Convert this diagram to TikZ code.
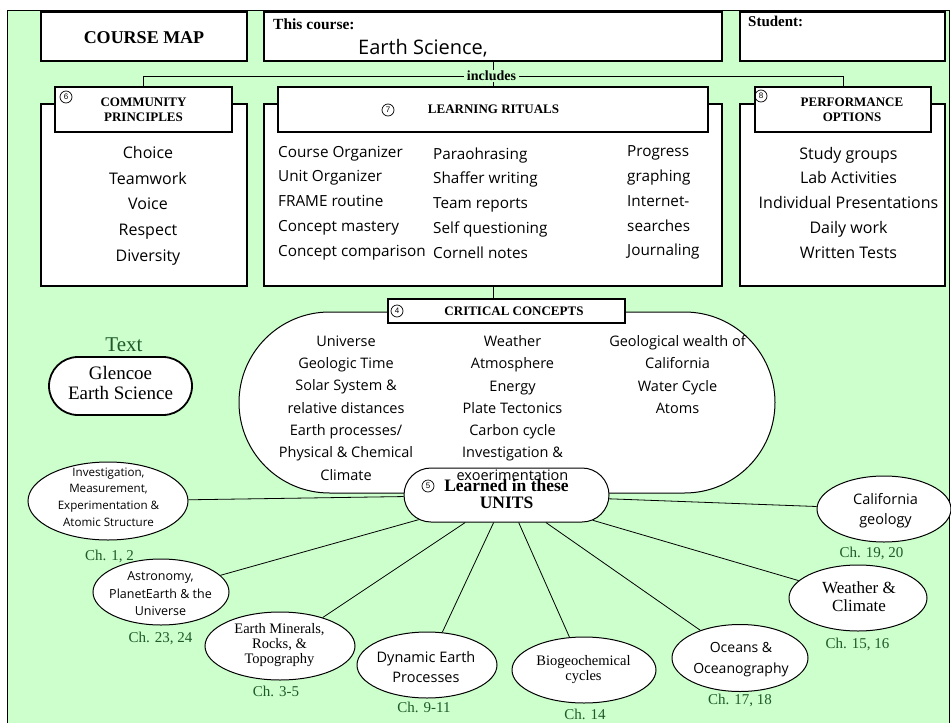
\documentclass[tikz,border=0pt]{standalone}
\usepackage{fontspec}
\setmainfont{Liberation Serif}
\newfontfamily\comic{Open Sans}
\newfontfamily\digitfont{Liberation Sans}
\usetikzlibrary{shapes.geometric,shapes.misc}
\definecolor{mapgreen}{RGB}{204,255,204}
\definecolor{chapgreen}{RGB}{30,90,40}
\newcommand\setfs[2]{\fontsize{#1}{#2}\selectfont}

\begin{document}
\begin{tikzpicture}[x=1pt,y=-1pt,
  frame/.style={draw, fill=white, line width=1.2pt, inner sep=0pt},
  head/.style={font=\bfseries\setfs{13}{15}, align=center, inner sep=0pt},
  item/.style={font=\comic\setfs{16}{25.75}, align=center, inner sep=0pt},
  ritem/.style={font=\comic\setfs{15.3}{24.75}, align=left, anchor=west, inner sep=0pt},
  cc/.style={font=\comic\setfs{14.5}{22.3}, align=center, inner sep=0pt},
  cnum/.style={circle, draw, line width=0.7pt, minimum size=12pt, inner sep=0pt, font=\digitfont\setfs{8}{8}},
  unitshape/.style={ellipse, draw, fill=white, line width=1pt, inner sep=0pt},
  stadium/.style={rounded rectangle, draw, fill=white, line width=1pt, inner sep=0pt},
  utext/.style={align=center, inner sep=0pt},
  chap/.style={font=\setfs{15}{15}, text=chapgreen, inner sep=0pt},
  link/.style={line width=0.8pt}]

\useasboundingbox (0,0) rectangle (951,723);
\fill[white] (0,0) rectangle (951,723);
\fill[mapgreen] (7,10) rectangle (949,723);
\draw[line width=1pt] (7,723) -- (7,10) -- (949,10) -- (949,723);

% header row
\node[frame, minimum width=206pt, minimum height=49pt] (mapbox) at (144,36.5) {};
\node[font=\bfseries\setfs{18}{18}, inner sep=0pt] (maptitle) at (144,38) {COURSE MAP};
\node[frame, minimum width=458pt, minimum height=49pt] (coursebox) at (493,36.5) {};
\node[anchor=west, font=\bfseries\setfs{15.5}{16}, inner sep=0pt] (courselbl) at (273,24) {This course:};
\node[anchor=west, font=\comic\setfs{20}{20}, inner sep=0pt] (coursename) at (358,48) {Earth Science,};
\node[frame, minimum width=205pt, minimum height=49pt] (studentbox) at (842.5,36.5) {};
\node[anchor=west, font=\bfseries\setfs{15}{16}, inner sep=0pt] (studentlbl) at (748,21) {Student:};

% community principles
\node[frame, minimum width=206pt, minimum height=182pt] (commbox) at (144,195) {};
\node[frame, minimum width=177pt, minimum height=45pt] (commhead) at (143.5,109.5) {};
\node[cnum] (n6) at (66,97) {6};
\node[head] (commtitle) at (143.5,109.5) {COMMUNITY\\PRINCIPLES};
\node[item] (commlist) at (148,205.6) {Choice\\Teamwork\\Voice\\Respect\\Diversity};

% learning rituals
\node[frame, minimum width=458pt, minimum height=182pt] (ritbox) at (493,195) {};
\node[frame, minimum width=430pt, minimum height=45pt] (rithead) at (493,109.5) {};
\node[cnum] (n7) at (388,110) {7};
\node[head] (rittitle) at (493.5,109) {LEARNING RITUALS};
\node[ritem] (ritone) at (278,202.8) {Course Organizer\\Unit Organizer\\FRAME routine\\Concept mastery\\Concept comparison};
\node[ritem] (rittwo) at (433,202.8) {Paraohrasing\\Shaffer writing\\Team reports\\Self questioning\\Cornell notes};
\node[ritem] (ritthree) at (627,202.8) {Progress\\graphing\\Internet-\\searches\\Journaling};

% performance options
\node[frame, minimum width=205pt, minimum height=182pt] (perfbox) at (842.5,195) {};
\node[frame, minimum width=176pt, minimum height=45pt] (perfhead) at (843,109.5) {};
\node[cnum] (n8) at (761,96) {8};
\node[head] (perftitle) at (852,109.5) {PERFORMANCE\\OPTIONS};
\node[font=\comic\setfs{16}{24.75}, align=center, inner sep=0pt] (perflist) at (848.5,202.6) {Study groups\\Lab Activities\\Individual Presentations\\Daily work\\Written Tests};

% "includes" bracket
\draw[link] (coursebox.south) -- (rithead.north);
\node[fill=mapgreen, inner xsep=3pt, inner ysep=1pt, font=\bfseries\setfs{14}{14}] (incl) at (491.5,76) {includes};
\draw[link] (commhead.north) |- (incl.west);
\draw[link] (perfhead.north) |- (incl.east);

% critical concepts
\node[stadium, minimum width=536pt, minimum height=181pt] (concepts) at (507,402.5) {};
\node[frame, minimum width=237pt, minimum height=24pt] (crithead) at (506.5,311) {};
\draw[link] (ritbox.south) -- (ritbox.south |- crithead.north);
\node[cnum] (n4) at (397,311) {4};
\node[head] (crittitle) at (514,311) {CRITICAL CONCEPTS};

% units hub
\node[stadium, minimum width=205pt, minimum height=54pt] (units) at (506.5,495) {};

\node[cc] (ccone) at (346,407.9) {Universe\\Geologic Time\\Solar System \&\\relative distances\\Earth processes/\\Physical \& Chemical\\Climate};
\node[cc] (cctwo) at (512.5,407.9) {Weather\\Atmosphere\\Energy\\Plate Tectonics\\Carbon cycle\\Investigation \&\\exoerimentation};
\node[cc] (ccthree) at (677.5,374.5) {Geological wealth of\\California\\Water Cycle\\Atoms};

\node[cnum] (n5) at (428,486) {5};
\node[font=\bfseries\setfs{17.5}{17}, align=center, inner sep=0pt] (unitstitle) at (506.5,494) {Learned in these\\UNITS};

% textbook
\node[font=\setfs{21}{21}, text=chapgreen, inner sep=0pt] (textlbl) at (124,345) {Text};
\node[stadium, line width=1.8pt, minimum width=143pt, minimum height=58pt] (book) at (120.5,386) {};
\node[font=\setfs{19}{20}, align=center, inner sep=0pt] (booktitle) at (120.5,383) {Glencoe\\Earth Science};

% unit ellipses
\node[unitshape, minimum width=160pt, minimum height=78pt] (inv) at (108,501) {};
\node[unitshape, minimum width=136pt, minimum height=66pt] (astro) at (161,592) {};
\node[unitshape, minimum width=150pt, minimum height=68pt] (minerals) at (280,646) {};
\node[unitshape, minimum width=140pt, minimum height=66pt] (dynamic) at (427,665) {};
\node[unitshape, minimum width=144pt, minimum height=66pt] (bio) at (584,670) {};
\node[unitshape, minimum width=136pt, minimum height=67pt] (oceans) at (740,658) {};
\node[unitshape, minimum width=138pt, minimum height=66pt] (weather) at (858,598) {};
\node[unitshape, minimum width=134pt, minimum height=66pt] (calif) at (884,509) {};

\foreach \u in {inv,astro,minerals,dynamic,bio,oceans,weather,calif}
  \draw[link] (\u) -- (units);

\node[utext, font=\comic\setfs{11.6}{16.8}] (invtext) at (108.5,497) {Investigation,\\Measurement,\\Experimentation \&\\Atomic Structure};
\node[utext, font=\comic\setfs{12.5}{17.5}] (astrotext) at (160.5,594) {Astronomy,\\PlanetEarth \& the\\Universe};
\node[utext, font=\setfs{14.5}{15}] (mintext) at (279.5,645) {Earth Minerals,\\Rocks, \&\\Topography};
\node[utext, font=\comic\setfs{14.5}{20}] (dyntext) at (426,667) {Dynamic Earth\\Processes};
\node[utext, font=\setfs{14.5}{15}] (biotext) at (583.5,669.5) {Biogeochemical\\cycles};
\node[utext, font=\comic\setfs{14}{21}] (oceantext) at (741,659.5) {Oceans \&\\Oceanography};
\node[utext, font=\setfs{17}{18}] (wxtext) at (859,597) {Weather \&\\Climate};
\node[utext, font=\comic\setfs{14.5}{20}] (caltext) at (885.5,511) {California\\geology};

% chapter references
\node[chap] (chinv) at (109.5,556) {Ch. 1, 2};
\node[chap] (chastro) at (160.5,638.5) {Ch. 23, 24};
\node[chap] (chmin) at (276,691) {Ch. 3-5};
\node[chap] (chdyn) at (424,707) {Ch. 9-11};
\node[chap] (chbio) at (585,714.5) {Ch. 14};
\node[chap] (choce) at (740,700.5) {Ch. 17, 18};
\node[chap] (chwx) at (857.5,644) {Ch. 15, 16};
\node[chap] (chcal) at (871.5,553.5) {Ch. 19, 20};

\end{tikzpicture}
\end{document}
